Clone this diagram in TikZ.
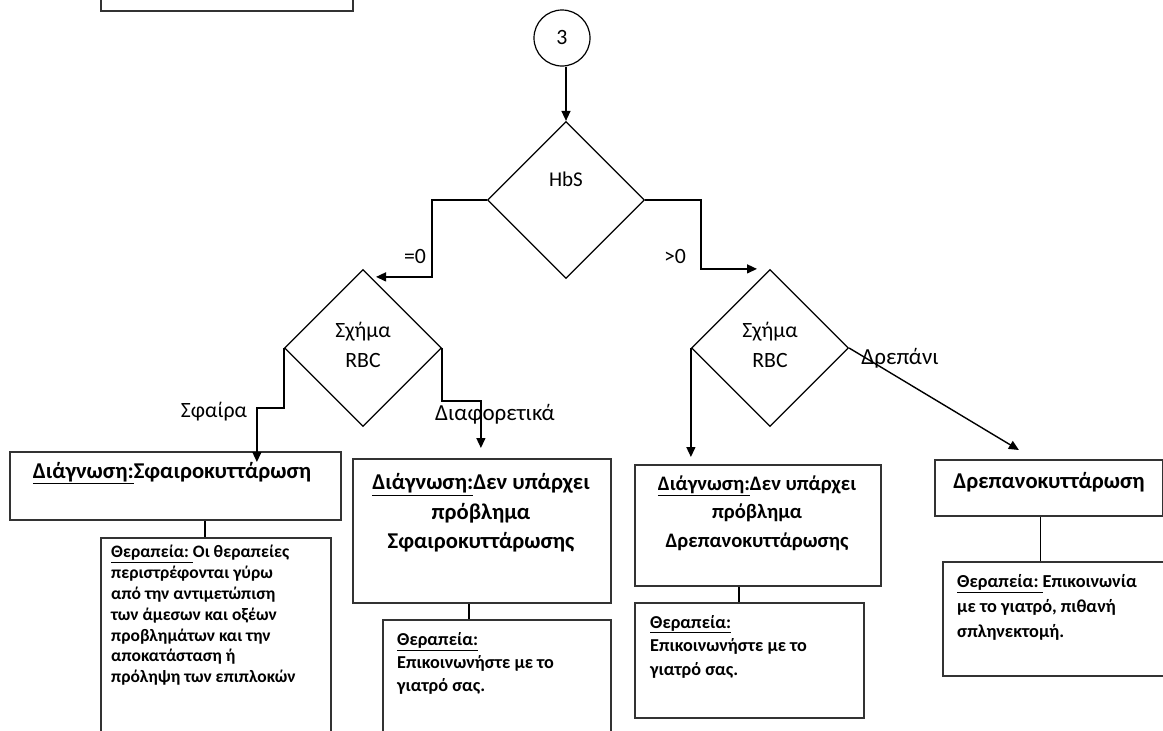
\documentclass[tikz,border=0pt]{standalone}
\usepackage{fontspec}
\setmainfont{Carlito}
\usetikzlibrary{shapes.geometric,arrows.meta}
\begin{document}
\begin{tikzpicture}[x=1pt,y=-1pt,
 box/.style={draw=black!80, line width=1.8pt, rectangle, inner sep=0pt, anchor=north west},
 dia/.style={draw, diamond, line width=1.2pt, inner sep=0pt, minimum width=157pt, minimum height=157pt},
 arr/.style={line width=1.4pt, -{Triangle[length=10pt,width=9pt]}},
 ln/.style={line width=1.4pt},
 lab/.style={font=\fontsize{21.8}{30}\selectfont, inner sep=0pt, align=center},
 big/.style={font=\bfseries\fontsize{22.6}{29.5}\selectfont, inner sep=0pt, align=center},
 mid/.style={font=\bfseries\fontsize{20.6}{28.5}\selectfont, inner sep=0pt, align=center},
 small/.style={inner sep=0pt, align=left, anchor=west}
]
\useasboundingbox (0,0) rectangle (1163,731);
\clip (0,0) rectangle (1163,731);
\fill[white] (0,0) rectangle (1163,731);

% top-left partial box
\node[box, minimum width=252pt, minimum height=30pt] (b0) at (100,-20) {};

% start circle
\node[draw, circle, line width=1.2pt, minimum size=56pt, inner sep=0pt, font=\fontsize{21.8}{25}\selectfont] (c3) at (562,38) {3};

% diamonds
\node[dia] (d0) at (566,200) {};
\node[lab, font=\fontsize{21}{30}\selectfont] (tHbS) at (566,179) {HbS};
\node[dia] (d1) at (363,348) {};
\node[lab] (tD1) at (363,345) {Σχήμα\\RBC};
\node[dia] (d2) at (770,348) {};
\node[lab] (tD2) at (770,345) {Σχήμα\\RBC};

% boxes
\node[box, minimum width=331pt, minimum height=68pt] (b1) at (9,451) {};
\node[box, minimum width=258pt, minimum height=144pt] (b2) at (352,458) {};
\node[box, minimum width=246pt, minimum height=121pt] (b3) at (634,464) {};
\node[box, minimum width=228pt, minimum height=56pt] (b4) at (934,459) {};
\node[box, minimum width=230pt, minimum height=230pt] (b5) at (100,537) {};
\node[box, minimum width=228pt, minimum height=150pt] (b6) at (382,619) {};
\node[box, minimum width=229pt, minimum height=115pt] (b7) at (634,602) {};
\node[box, minimum width=235pt, minimum height=114pt] (b8) at (942,561) {};

% box texts
\node[big] (t1) at (172,473) {\underline{Διάγνωση:}Σφαιροκυττάρωση};
\node[big] (t2) at (481,513) {\underline{Διάγνωση:}Δεν υπάρχει\\πρόβλημα\\Σφαιροκυττάρωσης};
\node[mid] (t3) at (757,513) {\underline{Διάγνωση:}Δεν υπάρχει\\πρόβλημα\\Δρεπανοκυττάρωσης};
\node[big] (t4) at (1049,482) {Δρεπανοκυττάρωση};
\node[small, font=\bfseries\fontsize{17.5}{20.8}\selectfont] (t5) at (111,615.5) {\underline{Θεραπεία:\ }Οι θεραπείες\\περιστρέφονται γύρω\\από την αντιμετώπιση\\των άμεσων και οξέων\\προβλημάτων και την\\αποκατάσταση ή\\πρόληψη των επιπλοκών};
\node[small, font=\bfseries\fontsize{18.2}{23}\selectfont] (t6) at (397,663.5) {\underline{Θεραπεία:}\\Επικοινωνήστε με το\\γιατρό σας.};
\node[small, font=\bfseries\fontsize{18.2}{23.5}\selectfont] (t7) at (650,646.5) {\underline{Θεραπεία:}\\Επικοινωνήστε με το\\γιατρό σας.};
\node[small, font=\bfseries\fontsize{18.3}{25}\selectfont] (t8) at (957,607.5) {\underline{Θεραπεία:\ }Επικοινωνία\\με το γιατρό, πιθανή\\σπληνεκτομή.};

% edge labels
\node[lab] (l0) at (415,256) {=0};
\node[lab] (l1) at (675,256) {>0};
\node[lab] (l2) at (214,412) {Σφαίρα};
\node[lab, font=\fontsize{23}{30}\selectfont] (l3) at (495,414) {Διαφορετικά};
\node[lab, font=\fontsize{23}{30}\selectfont] (l4) at (900,358) {Δρεπάνι};

% connectors
\draw[arr] (c3.south -| d0.north) -- (d0.north);
\draw[arr] (d0.west) -- ++(-55,0) |- ([xshift=13pt,yshift=-8pt]d1.north);
\draw[arr] (d0.east) -- ++(56,0) |- ([xshift=-13pt]d2.north);
\draw[arr] (d1.west) -- ++(0,60) -| ([xshift=81.5pt,yshift=-11pt]b1.north);
\draw[arr] (d1.east) -- ++(0,53) -| ([xshift=-1pt,yshift=10pt]b2.north);
\draw[arr] (d2.west) -- ([yshift=7pt]b3.north -| d2.west);
\draw[arr] (d2.east) -- ([xshift=-30pt,yshift=9pt]b4.north);

\draw[ln] ([xshift=-11pt]b5.north) -- ([xshift=-11pt]b5.north |- b1.south);
\draw[ln] ([xshift=-28pt]b6.north) -- ([xshift=-28pt]b6.north |- b2.south);
\draw[ln] ([xshift=-10.5pt]b7.north) -- ([xshift=-10.5pt]b7.north |- b3.south);
\draw[ln] ([xshift=-20pt]b8.north) -- ([xshift=-20pt]b8.north |- b4.south);
\end{tikzpicture}
\end{document}
